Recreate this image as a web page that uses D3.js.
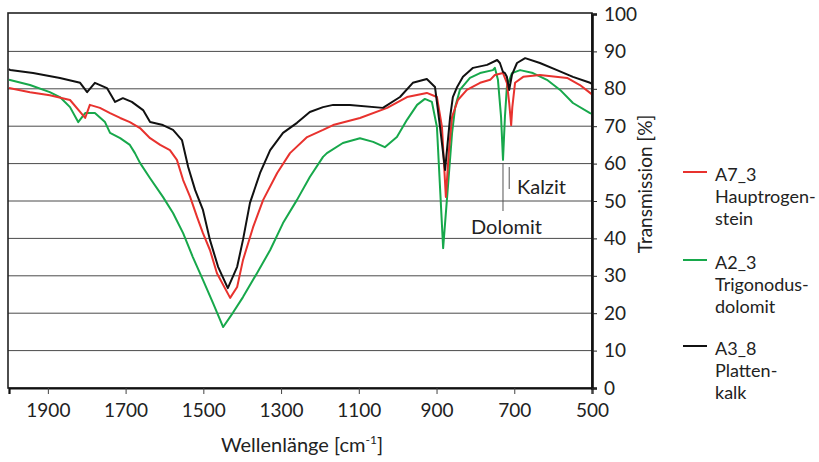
<!DOCTYPE html>
<html><head><meta charset="utf-8">
<script src="https://cdn.jsdelivr.net/npm/d3@7"></script>
<style>body{margin:0;background:#fff}svg{display:block}text{font-family:Lato,"Open Sans",sans-serif}</style>
</head><body>
<svg id="c" width="819" height="462"></svg>
<script>
// Wavenumber (cm^-1) and transmission (%)
const wnA3 = [2000,1997,1938,1869,1817,1799,1779,1748,1727,1707,1684,1655,1637,1604,1578,1555,1539,1521,1501,1483,1462,1437,1413,1398,1380,1354,1328,1295,1259,1226,1192,1166,1123,1038,994,961,925,904,891,878,865,858,847,832,806,770,744,737,729,724,719,713,706,693,672,634,590,549,505,500];
const tA3  = [85.3,85.0,84.2,82.9,81.6,79.1,81.6,80.2,76.5,77.5,76.5,74.3,71.1,70.3,69.0,66.3,59.1,52.9,47.6,39.6,32.4,26.7,32.4,39.6,49.5,57.5,63.6,68.2,70.9,73.8,75.1,75.7,75.7,74.9,77.8,81.6,82.6,80.5,69.8,58.3,72.5,77.8,80.5,83.2,85.6,86.4,87.7,86.9,84.5,84.2,83.2,79.7,83.7,86.9,88.2,86.9,85.0,83.2,81.6,81.3];

const wnA7 = [2000,1946,1895,1843,1804,1792,1766,1740,1714,1689,1663,1637,1611,1586,1568,1552,1534,1516,1501,1483,1465,1431,1413,1398,1372,1346,1310,1277,1233,1192,1166,1097,1027,976,925,899,886,876,868,860,845,822,788,762,750,729,719,713,708,705,698,677,634,564,531,505,500];
const tA7  = [80.2,79.1,78.3,77.0,72.2,75.7,74.9,73.5,72.2,71.1,69.5,66.8,65.0,63.6,61.0,55.6,51.1,45.7,41.4,36.9,30.7,24.1,27.0,34.2,43.0,50.3,57.5,62.8,67.1,69.0,70.3,72.2,74.9,77.8,78.9,77.8,69.8,51.1,63.6,72.5,77.0,79.7,81.6,82.4,83.7,84.2,81.6,76.2,70.3,75.1,81.6,83.2,83.7,82.9,81.0,78.9,78.5];

const wnA2 = [2000,1946,1895,1869,1843,1822,1804,1779,1753,1740,1714,1689,1676,1663,1637,1604,1578,1552,1527,1501,1475,1449,1424,1398,1362,1328,1295,1259,1226,1192,1182,1141,1097,1063,1033,1002,976,950,930,912,899,883,870,860,852,840,814,788,755,750,742,734,729,724,719,706,685,652,616,582,549,505,500];
const tA2  = [82.4,81.0,79.1,77.8,75.1,71.1,73.5,73.5,71.1,68.2,66.8,65.0,62.8,60.2,56.1,51.1,46.8,41.4,35.0,28.9,22.7,16.3,20.1,24.3,30.7,36.9,44.1,50.3,56.4,61.8,62.8,65.5,66.8,65.8,64.4,67.1,71.7,75.7,77.3,76.5,69.8,37.4,54.8,68.2,75.1,79.7,82.9,84.2,85.0,85.6,82.4,72.5,61.0,72.5,80.5,84.2,85.0,84.2,82.4,79.7,76.2,73.5,73.3];

const seriesNames = ["A7_3","A2_3","A3_8"];
const seriesLabels = [["A7_3","Hauptrogen-","stein"],["A2_3","Trigonodus-","dolomit"],["A3_8","Platten-","kalk"]];
const seriesColors = ["#e8322e","#17a84b","#111111"];
const xTicks = [1900,1700,1500,1300,1100,900,700,500];
const yTicks = [0,10,20,30,40,50,60,70,80,90,100];
const annotations = [{text:"Dolomit", wn:729}, {text:"Kalzit", wn:713}];

const svg = d3.select("#c");
const L = 8, R = 592, T = 13, B = 388;
const x = d3.scaleLinear().domain([2000,500]).range([9,R]);
const y = d3.scaleLinear().domain([0,100]).range([B,14]);

// grid
svg.append("g").selectAll("line").data(yTicks.filter(d=>d>0&&d<100)).join("line")
  .attr("x1",L).attr("x2",R).attr("y1",d=>y(d)).attr("y2",d=>y(d))
  .attr("stroke","#4a4a4a").attr("stroke-width",1);

// frame
svg.append("rect").attr("x",L).attr("y",T).attr("width",R-L).attr("height",B-T)
  .attr("fill","none").attr("stroke","#222").attr("stroke-width",1.6);

// data
const data = [
  {wn:wnA7, t:tA7},
  {wn:wnA2, t:tA2},
  {wn:wnA3, t:tA3}
];
const line = d3.line().x(d=>x(d[0])).y(d=>y(d[1]));
[1,0,2].forEach(i=>{
  const pts = data[i].wn.map((w,k)=>[w,data[i].t[k]]);
  svg.append("path").datum(pts).attr("d",line).attr("fill","none")
    .attr("stroke",seriesColors[i]).attr("stroke-width",2).attr("stroke-linejoin","round");
});

// axes
const xAxis = d3.axisBottom(x).tickValues(xTicks).tickSize(6).tickPadding(10).tickFormat(d3.format("d"));
const gx = svg.append("g").attr("transform",`translate(0,${B})`).call(xAxis);
gx.select(".domain").attr("stroke","#111").attr("stroke-width",2.2);
gx.selectAll(".tick line").attr("stroke","#444");
gx.selectAll("text").attr("font-size",19).attr("fill","#222").attr("font-family","Lato");

const yAxis = d3.axisRight(y).tickValues(yTicks).tickSize(5).tickPadding(7);
const gy = svg.append("g").attr("transform",`translate(${R},0)`).call(yAxis);
gy.select(".domain").attr("stroke","#111").attr("stroke-width",2.6);
gy.selectAll(".tick line").attr("stroke","#222");
gy.selectAll("text").attr("font-size",19).attr("fill","#222").attr("font-family","Lato");

// axis titles
const xt = svg.append("text").attr("x",302).attr("y",452).attr("text-anchor","middle")
  .attr("font-size",20).attr("fill","#222");
xt.append("tspan").text("Wellenlänge [cm");
xt.append("tspan").text("-1").attr("font-size",12).attr("dy",-8);
xt.append("tspan").text("]").attr("dy",8);

svg.append("text").attr("transform","translate(652,184) rotate(-90)").attr("text-anchor","middle")
  .attr("font-size",19).attr("fill","#222").text("Transmission [%]");

// annotations
const ann = [
  {a:annotations[0], y1:163, y2:211, tx:471, ty:234},
  {a:annotations[1], y1:167, y2:189, tx:517, ty:194}
];
ann.forEach(o=>{
  svg.append("line").attr("x1",x(o.a.wn)).attr("x2",x(o.a.wn)).attr("y1",o.y1).attr("y2",o.y2)
    .attr("stroke","#555").attr("stroke-width",1);
  svg.append("text").attr("x",o.tx).attr("y",o.ty).attr("font-size",20).attr("fill","#222").text(o.a.text);
});

// legend
const legY = [172,260,346];
seriesLabels.forEach((lab,i)=>{
  svg.append("line").attr("x1",683).attr("x2",707).attr("y1",legY[i]).attr("y2",legY[i])
    .attr("stroke",seriesColors[i]).attr("stroke-width",2);
  lab.forEach((s,k)=>svg.append("text").attr("x",715).attr("y",legY[i]+9+k*22)
    .attr("font-size",18).attr("fill","#222").text(s));
});
</script>
</body></html>
